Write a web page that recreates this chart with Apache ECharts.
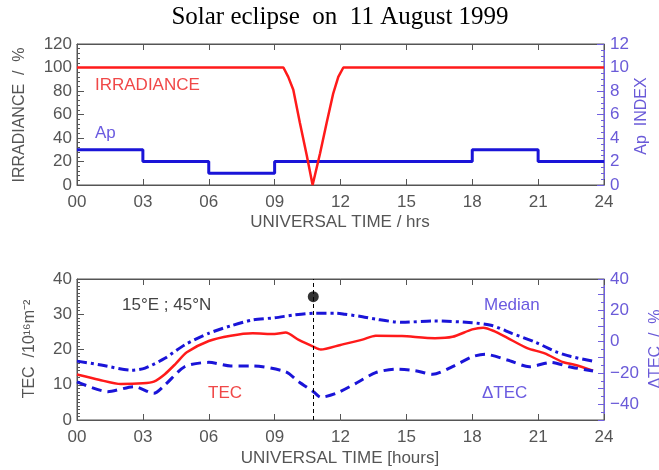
<!DOCTYPE html>
<html>
<head>
<meta charset="utf-8">
<script src="https://cdn.jsdelivr.net/npm/echarts@6/dist/echarts.min.js"></script>
<style>
html,body{margin:0;padding:0;background:#fff;}
#chart{width:659px;height:470px;}
</style>
</head>
<body>
<div id="chart"></div>
<script>
// ---------- data ----------
const xTickLabels = ['00','03','06','09','12','15','18','21','24'];

const irrHours = [0, 9.4, 9.62, 9.85, 10.15, 10.46, 10.73, 11.07, 11.37, 11.67, 11.9, 12.13, 24];
const irrValues = [100, 100, 92, 81, 53, 25.5, 0, 27, 53, 78, 92, 100, 100];

const apHours = [0, 3, 6, 9, 12, 15, 18, 21, 24];
const apValues = [3, 2, 1, 2, 2, 2, 3, 2, 2];

const tecHours = [0, 1, 2, 3, 3.5, 4, 4.5, 5, 6, 7, 8, 9, 9.5, 10.1, 10.76, 11.1, 12, 13, 13.6, 14.8, 16.3, 17.1, 18, 18.5, 19, 19.6, 20.5, 21.3, 22.1, 22.7, 23.5];
const tecValues = [12.9, 11.4, 10.2, 10.4, 10.9, 13.0, 16.0, 19.2, 22.4, 23.9, 24.6, 24.4, 24.8, 22.7, 20.8, 20.0, 21.3, 22.8, 23.9, 23.8, 23.2, 23.6, 25.7, 26.2, 25.2, 23.3, 20.4, 18.9, 16.5, 15.6, 14.0];

const medHours = [0, 1.1, 2.5, 3.1, 4, 4.9, 6, 7, 8, 9, 9.9, 10.8, 11.8, 12.2, 13, 13.6, 14.8, 16.2, 18, 18.9, 19.8, 20.9, 21.8, 22.5, 23.5];
const medValues = [16.7, 15.6, 14.1, 14.7, 17.5, 21.3, 24.6, 26.7, 28.4, 29.0, 29.8, 30.3, 30.3, 30.0, 29.3, 28.6, 27.7, 28.1, 27.6, 26.8, 24.6, 22.0, 19.4, 18.0, 16.7];

const dtecHours = [0, 1.4, 2.6, 3.5, 4, 4.9, 6, 7, 8, 9.5, 10.1, 10.8, 11.1, 11.8, 12.7, 13.6, 14.5, 15.4, 16.2, 17.1, 18, 18.6, 19.6, 20.6, 21.6, 22.4, 23.5];
const dtecValues = [-25.6, -31.9, -28.7, -33.0, -27.7, -16.0, -13.2, -15.5, -15.5, -19.2, -25.6, -32.3, -35.5, -33.0, -26.6, -19.8, -17.5, -18.5, -20.8, -16.0, -9.6, -8.1, -11.7, -16.0, -13.2, -16.0, -18.7];

const eclipseHour = 10.76;
const eclipseMarkerTEC = 35;

// ---------- helpers ----------
const pair = (xs, ys) => xs.map((x, i) => [x, ys[i]]);
const GRAY = '#555';
const BLUE_TXT = '#6a5ad8';
const FONT = 'Liberation Sans, Arial, sans-serif';
const RED = '#ff1a1a';
const BLUE = '#1a14d8';

function xAxisMain(gridIndex) {
  return {
    type: 'value', gridIndex, min: 0, max: 24, interval: 3, position: 'bottom',
    axisLine: {show: true, onZero: false, lineStyle: {color: GRAY, width: 1}},
    axisTick: {show: true, inside: true, length: 6, lineStyle: {color: GRAY}},
    axisLabel: {color: GRAY, fontFamily: FONT, fontSize: 17, margin: 9,
      formatter: v => xTickLabels[Math.round(v / 3)]},
    splitLine: {show: false}
  };
}
function xAxisTop(gridIndex) {
  return {
    type: 'value', gridIndex, min: 0, max: 24, interval: 3, position: 'top',
    axisLine: {show: true, onZero: false, lineStyle: {color: GRAY, width: 1}},
    axisTick: {show: true, inside: true, length: 6, lineStyle: {color: GRAY}},
    axisLabel: {show: false}, splitLine: {show: false}
  };
}

const option = {
  animation: false,
  backgroundColor: '#fff',
  grid: [
    {left: 77, right: 55, top: 44, height: 141, show: true, borderColor: GRAY, borderWidth: 1},
    {left: 77, right: 55, top: 279, height: 141, show: true, borderColor: GRAY, borderWidth: 1}
  ],
  xAxis: [xAxisMain(0), xAxisTop(0), xAxisMain(1), xAxisTop(1)],
  yAxis: [
    {type: 'value', gridIndex: 0, min: 0, max: 120, interval: 20, position: 'left',
     axisLine: {show: true, onZero: false, lineStyle: {color: GRAY}},
     axisTick: {show: true, inside: true, length: 7, lineStyle: {color: GRAY}},
     minorTick: {show: true, splitNumber: 5, length: 3, lineStyle: {color: GRAY}},
     axisLabel: {color: GRAY, fontFamily: FONT, fontSize: 17, margin: 5},
     splitLine: {show: false}},
    {type: 'value', gridIndex: 0, min: 0, max: 12, interval: 2, position: 'right',
     axisLine: {show: true, onZero: false, lineStyle: {color: '#7060e0'}},
     axisTick: {show: true, inside: true, length: 7, lineStyle: {color: '#7060e0'}},
     minorTick: {show: true, splitNumber: 4, length: 3, lineStyle: {color: '#7060e0'}},
     axisLabel: {color: BLUE_TXT, fontFamily: FONT, fontSize: 17, margin: 6},
     splitLine: {show: false}},
    {type: 'value', gridIndex: 1, min: 0, max: 40, interval: 10, position: 'left',
     axisLine: {show: true, onZero: false, lineStyle: {color: GRAY}},
     axisTick: {show: true, inside: true, length: 7, lineStyle: {color: GRAY}},
     minorTick: {show: true, splitNumber: 10, length: 3, lineStyle: {color: GRAY}},
     axisLabel: {color: GRAY, fontFamily: FONT, fontSize: 17, margin: 5},
     splitLine: {show: false}},
    {type: 'value', gridIndex: 1, min: -50, max: 40, interval: 10, position: 'right',
     axisLine: {show: true, onZero: false, lineStyle: {color: '#7060e0'}},
     axisTick: {show: true, inside: true, length: 6, lineStyle: {color: '#7060e0'}},
     minorTick: {show: true, splitNumber: 2, length: 3, lineStyle: {color: '#7060e0'}},
     axisLabel: {color: BLUE_TXT, fontFamily: FONT, fontSize: 17, margin: 6,
       formatter: v => (Math.round(v) % 20 === 0 ? (v < 0 ? '\u2212' + Math.abs(v) : String(v)) : '')},
     splitLine: {show: false}}
  ],
  series: [
    {name: 'Irradiance', type: 'line', xAxisIndex: 0, yAxisIndex: 0, data: pair(irrHours, irrValues),
     showSymbol: false, lineStyle: {color: RED, width: 2.5}, z: 3},
    {name: 'Ap', type: 'line', xAxisIndex: 0, yAxisIndex: 1, data: pair(apHours, apValues), step: 'end',
     showSymbol: false, lineStyle: {color: BLUE, width: 3}, z: 2},
    {name: 'Median', type: 'line', xAxisIndex: 2, yAxisIndex: 2, data: pair(medHours, medValues),
     showSymbol: false, smooth: 0.25, lineStyle: {color: BLUE, width: 3, type: [10, 4, 3, 4]}},
    {name: 'TEC', type: 'line', xAxisIndex: 2, yAxisIndex: 2, data: pair(tecHours, tecValues),
     showSymbol: false, smooth: 0.25, lineStyle: {color: RED, width: 2.5}, z: 3,
     markLine: {silent: true, symbol: ['none', 'none'], label: {show: false},
       lineStyle: {color: '#000', width: 1, type: [4, 3]}, data: [{xAxis: eclipseHour}]}},
    {name: 'dTEC', type: 'line', xAxisIndex: 2, yAxisIndex: 3, data: pair(dtecHours, dtecValues),
     showSymbol: false, smooth: 0.25, lineStyle: {color: BLUE, width: 3, type: [10, 6]}},
    {name: 'Eclipse', type: 'scatter', xAxisIndex: 2, yAxisIndex: 2, data: [[eclipseHour, eclipseMarkerTEC]],
     symbolSize: 11, itemStyle: {color: '#000'}, z: 5}
  ],
  graphic: [
    {type: 'text', x: 340, y: 17, style: {text: 'Solar eclipse  on  11 August 1999', fill: '#000',
      font: '25px "Liberation Serif", "Times New Roman", serif', align: 'center', verticalAlign: 'middle'}},
    {type: 'text', x: 95, y: 85, style: {text: 'IRRADIANCE', fill: '#f04848', font: '17px ' + FONT, verticalAlign: 'middle'}},
    {type: 'text', x: 95, y: 133, style: {text: 'Ap', fill: '#6a5ae0', font: '17px ' + FONT, verticalAlign: 'middle'}},
    {type: 'text', x: 20, y: 115, rotation: Math.PI / 2, style: {text: 'IRRADIANCE  /  %', fill: GRAY, font: '16px ' + FONT, align: 'center', verticalAlign: 'middle'}},
    {type: 'text', x: 642, y: 116, rotation: Math.PI / 2, style: {text: 'Ap  INDEX', fill: BLUE_TXT, font: '16px ' + FONT, align: 'center', verticalAlign: 'middle'}},
    {type: 'text', x: 340, y: 222, style: {text: 'UNIVERSAL TIME / hrs', fill: GRAY, font: '17px ' + FONT, align: 'center', verticalAlign: 'middle'}},
    {type: 'text', x: 122, y: 305, style: {text: '15°E ; 45°N', fill: '#444', font: '17px ' + FONT, verticalAlign: 'middle'}},
    {type: 'text', x: 208, y: 393, style: {text: 'TEC', fill: '#f04848', font: '17px ' + FONT, verticalAlign: 'middle'}},
    {type: 'text', x: 484, y: 305, style: {text: 'Median', fill: '#6a5ae0', font: '17px ' + FONT, verticalAlign: 'middle'}},
    {type: 'text', x: 482, y: 393, style: {text: '\u0394TEC', fill: '#6a5ae0', font: '17px ' + FONT, verticalAlign: 'middle'}},
    {type: 'text', x: 30, y: 349, rotation: Math.PI / 2, style: {text: 'TEC  /10\u00B9\u2076m\u207B\u00B2', fill: GRAY, font: '16px ' + FONT, align: 'center', verticalAlign: 'middle'}},
    {type: 'text', x: 656, y: 349, rotation: Math.PI / 2, style: {text: '\u0394TEC  /  %', fill: BLUE_TXT, font: '16px ' + FONT, align: 'center', verticalAlign: 'middle'}},
    {type: 'text', x: 340, y: 458, style: {text: 'UNIVERSAL TIME [hours]', fill: GRAY, font: '17px ' + FONT, align: 'center', verticalAlign: 'middle'}}
  ]
};

const chart = echarts.init(document.getElementById('chart'), null, {renderer: 'canvas'});
chart.setOption(option);
</script>
</body>
</html>
